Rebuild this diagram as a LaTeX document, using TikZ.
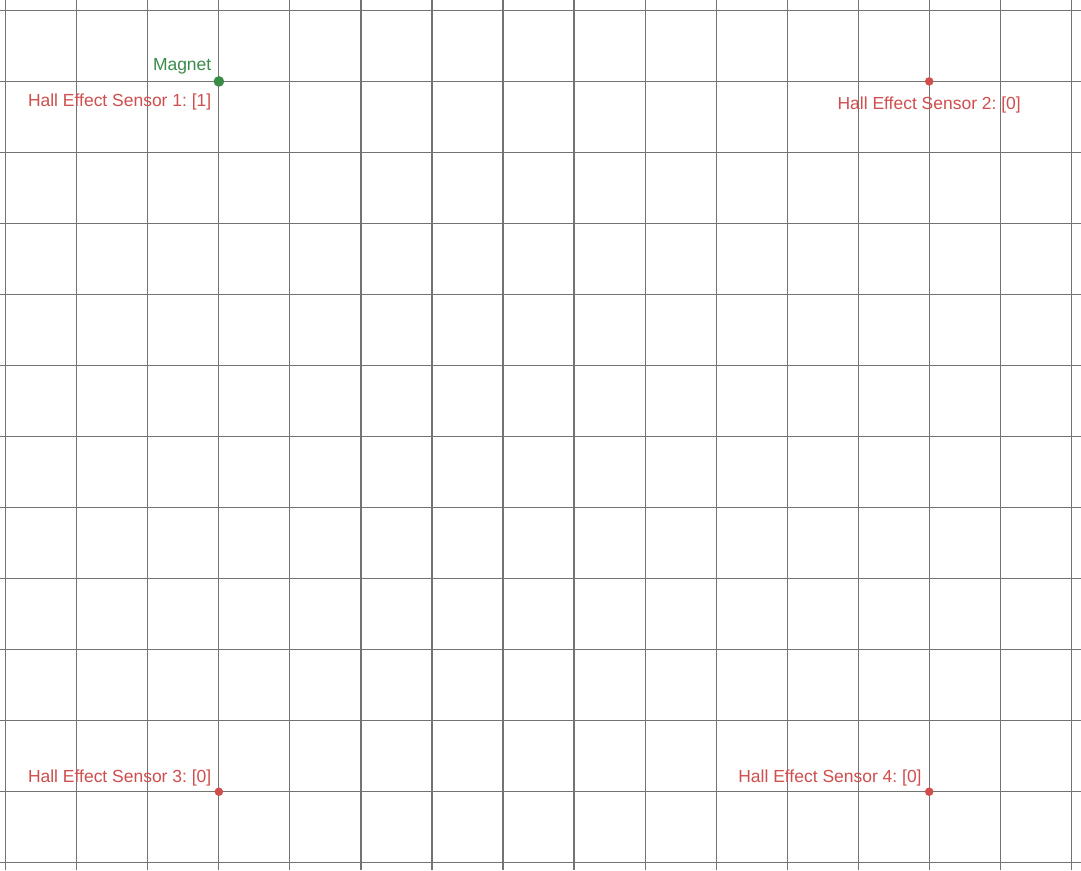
\documentclass[tikz,border=0pt]{standalone}
\usepackage{fontspec}
\setmainfont{Liberation Sans}
\usepackage{xcolor}
\usetikzlibrary{positioning,calc}

\definecolor{sensorred}{RGB}{208,78,78}
\definecolor{magnetgreen}{RGB}{58,140,72}

\tikzset{
  gridline/.style={line width=0.45pt, black!55},
  sensordot/.style={circle, fill=sensorred, inner sep=0pt, minimum size=0.12cm},
  magnetdot/.style={circle, fill=magnetgreen, inner sep=0pt, minimum size=0.15cm},
  labelfont/.style={inner sep=0pt, font=\fontsize{7}{8.4}\selectfont\frenchspacing},
  sensorlabel/.style={labelfont, text=sensorred},
  magnetlabel/.style={labelfont, text=magnetgreen}
}

\begin{document}
\begin{tikzpicture}
\useasboundingbox (-0.0817,-0.103) rectangle (15.137,12.146);
\fill[white] (-0.0817,-0.103) rectangle (15.137,12.146);
\draw[gridline] (-0.0817,-0.103) grid (15.137,12.146);

% sensors
\foreach \n/\x/\y in {1/3/11,2/13/11,3/3/1,4/13/1}{
\node[sensordot] (s\n) at (\x,\y) {};}

% magnet sits on sensor 1
\node[magnetdot] (mag) at (3,11) {};

\node[sensorlabel, anchor=base east] (l1) at ([shift={(-0.1,-0.36)}]s1.center) {Hall Effect Sensor 1: [1]};
\node[sensorlabel, anchor=base] (l2) at ([shift={(0,-0.39)}]s2.center) {Hall Effect Sensor 2: [0]};
\node[sensorlabel, anchor=base east] (l3) at ([shift={(-0.1,0.135)}]s3.center) {Hall Effect Sensor 3: [0]};
\node[sensorlabel, anchor=base east] (l4) at ([shift={(-0.1,0.135)}]s4.center) {Hall Effect Sensor 4: [0]};
\node[magnetlabel, anchor=base east] (lm) at ([shift={(-0.1,0.15)}]mag.center) {Magnet};

\end{tikzpicture}
\end{document}
